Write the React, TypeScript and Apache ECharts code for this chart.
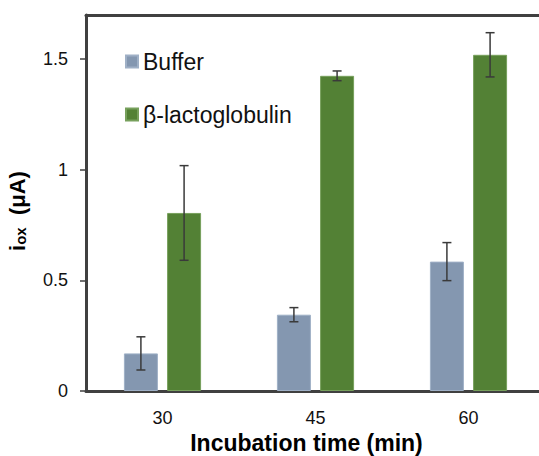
import React, { useEffect, useRef } from "react";
import * as echarts from "echarts";

const categories = ["30", "45", "60"];
const bufferValues = [0.17, 0.345, 0.585];
const bufferErrors = [0.075, 0.032, 0.086];
const lactoValues = [0.805, 1.425, 1.52];
const lactoErrors = [0.214, 0.022, 0.1];
const yTicks = [0, 0.5, 1, 1.5];
const seriesNames = ["Buffer", "β-lactoglobulin"];

const FONT = "'Liberation Sans', Arial, sans-serif";
const AXIS = "#404040";
const BAR_W = 34;
const BAR_GAP = 0.27;

export default function App() {
  const ref = useRef<HTMLDivElement>(null);
  useEffect(() => {
    document.body.style.margin = "0";
    const chart = echarts.init(ref.current!, null, { renderer: "svg" });
    const half = (BAR_W * (1 + BAR_GAP)) / 2;
    const errData = (vals: number[], errs: number[], sign: number) =>
      vals.map((v, i) => [i, v, errs[i], sign]);
    const renderErr = (params: any, api: any) => {
      const i = api.value(0);
      const v = api.value(1);
      const e = api.value(2);
      const s = api.value(3);
      const top = api.coord([i, v + e]);
      const bot = api.coord([i, v - e]);
      const x = top[0] + s * half;
      const cap = 4.5;
      const style = { stroke: "#3a3a3a", lineWidth: 1.5 };
      return {
        type: "group",
        children: [
          { type: "line", shape: { x1: x, y1: top[1], x2: x, y2: bot[1] }, style },
          { type: "line", shape: { x1: x - cap, y1: top[1], x2: x + cap, y2: top[1] }, style },
          { type: "line", shape: { x1: x - cap, y1: bot[1], x2: x + cap, y2: bot[1] }, style },
        ],
      };
    };
    chart.setOption({
      animation: false,
      grid: {
        left: 86,
        top: 15,
        width: 459,
        height: 376,
        outerBoundsMode: "none",
        containLabel: false,
      },
      legend: {
        data: seriesNames,
        orient: "vertical",
        left: 125,
        top: 50,
        padding: 0,
        itemWidth: 12,
        itemHeight: 12,
        itemGap: 30,
        icon: "rect",
        textStyle: { fontFamily: FONT, fontSize: 23, color: "#111" },
      },
      xAxis: [
        {
          type: "category",
          data: categories,
          name: "Incubation time (min)",
          nameLocation: "middle",
          nameGap: 40,
          nameTextStyle: { fontFamily: FONT, fontSize: 23, fontWeight: "bold", color: "#000", padding: [0, 18, 0, 0] },
          axisLine: { lineStyle: { color: AXIS, width: 3 } },
          axisTick: { length: 5, lineStyle: { color: AXIS, width: 1.5 } },
          axisLabel: { fontFamily: FONT, fontSize: 18, color: "#111", margin: 18 },
        },
        {
          type: "category",
          data: categories,
          position: "top",
          axisLine: { show: true, lineStyle: { color: AXIS, width: 3 } },
          axisTick: { show: false },
          axisLabel: { show: false },
        },
      ],
      yAxis: {
        type: "value",
        min: 0,
        max: 1.7,
        interval: 0.5,
        name: "{a|i}{b|ox}{a|  (μA)}",
        nameLocation: "middle",
        nameGap: 58,
        nameRotate: 90,
        nameTextStyle: {
          padding: [0, 16, 0, 0],
          rich: {
            a: { fontFamily: FONT, fontSize: 22, fontWeight: "bold", color: "#000" },
            b: { fontFamily: FONT, fontSize: 15, fontWeight: "bold", color: "#000", verticalAlign: "bottom" },
          },
        },
        splitLine: { show: false },
        axisLine: { show: true, lineStyle: { color: AXIS, width: 3 } },
        axisTick: { show: true, length: 6, lineStyle: { color: AXIS, width: 1.5 }, customValues: yTicks },
        axisLabel: { fontFamily: FONT, fontSize: 18, color: "#111", margin: 18, customValues: yTicks },
      },
      series: [
        {
          name: seriesNames[0],
          type: "bar",
          data: bufferValues,
          barWidth: BAR_W,
          barGap: BAR_GAP * 100 + "%",
          itemStyle: { color: "#8497B0", borderColor: "#9fb0c6", borderWidth: 1 },
        },
        {
          name: seriesNames[1],
          type: "bar",
          data: lactoValues,
          barWidth: BAR_W,
          barGap: BAR_GAP * 100 + "%",
          itemStyle: { color: "#538135", borderColor: "#77a05c", borderWidth: 1 },
        },
        {
          type: "custom",
          renderItem: renderErr,
          data: errData(bufferValues, bufferErrors, -1),
          encode: { x: 0, y: 1 },
          z: 5,
        },
        {
          type: "custom",
          renderItem: renderErr,
          data: errData(lactoValues, lactoErrors, 1),
          encode: { x: 0, y: 1 },
          z: 5,
        },
      ],
    });
    return () => chart.dispose();
  }, []);
  return <div ref={ref} style={{ position: "absolute", left: 0, top: 0, width: 539, height: 456 }} />;
}
